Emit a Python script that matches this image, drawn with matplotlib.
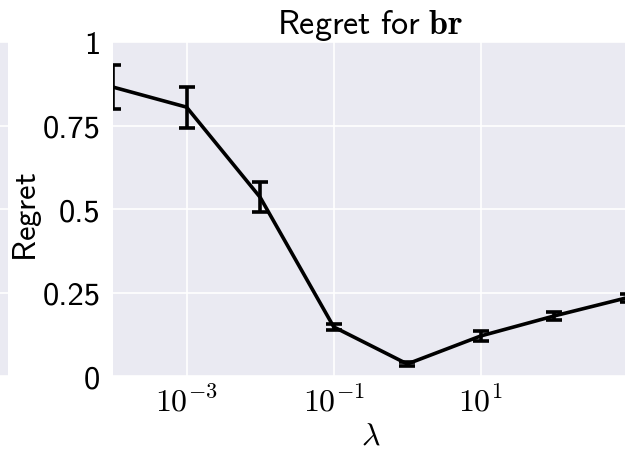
import matplotlib
matplotlib.use("Agg")
import matplotlib.pyplot as plt
from matplotlib.font_manager import FontProperties
import os

lambdas = [1e-4, 1e-3, 1e-2, 1e-1, 1e0, 1e1, 1e2, 1e3]
regret = [0.865, 0.805, 0.535, 0.147, 0.036, 0.12, 0.18, 0.235]
regret_err = [0.067, 0.061, 0.045, 0.01, 0.005, 0.015, 0.013, 0.012]
yticks = [0, 0.25, 0.5, 0.75, 1]
ytick_labels = ["0", "0.25", "0.5", "0.75", "1"]
xticks = [1e-3, 1e-1, 1e1]
xtick_labels = [r"$10^{-3}$", r"$10^{-1}$", r"$10^{1}$"]

plt.rcParams["mathtext.fontset"] = "cm"
bg = "#EAEAF2"
cmss = FontProperties(fname=os.path.join(matplotlib.get_data_path(), "fonts", "ttf", "cmss10.ttf"),
                      size=23.5)

fig = plt.figure(figsize=(6.25, 4.56), dpi=100)
W, H = 625, 456
left, right, top, bottom = 113, 628, 43, 377
ax = fig.add_axes([left / W, 1 - bottom / H, (right - left) / W, (bottom - top) / H])

# neighbouring (cropped) subplot strip
ax2 = fig.add_axes([-0.1, 1 - bottom / H, 0.1 + 8 / W, (bottom - top) / H])
for a in (ax, ax2):
    a.set_facecolor(bg)
    for s in a.spines.values():
        s.set_visible(False)
    a.set_ylim(0, 1)
    a.set_yticks(yticks)
    a.grid(True, color="white", linewidth=1.2)
    a.set_axisbelow(True)
ax2.set_xticks([])
ax2.tick_params(left=False, labelleft=False)

ax.errorbar(lambdas, regret, yerr=regret_err, color="black", lw=2.6,
            elinewidth=2.6, capsize=5.5, capthick=2.6, clip_on=True)
ax.set_xscale("log")
ax.set_xlim(1e-4, 1e3)
ax.set_xticks(xticks)
ax.set_xticklabels(xtick_labels, fontsize=23)
ax.minorticks_off()
ax.set_yticklabels(ytick_labels, fontproperties=cmss)
ax.tick_params(axis="y", length=0, pad=9)
ax.tick_params(axis="x", length=0, pad=7)
ax.set_title(r"$\mathsf{Regret\ for}\ \mathbf{br}$", fontsize=24.5, pad=5)
ax.set_ylabel(r"$\mathsf{Regret}$", fontsize=23.5)
ax.yaxis.set_label_coords((44 - left) / (right - left), 0.48)
ax.set_xlabel(r"$\lambda$", fontsize=23, labelpad=2)

fig.savefig("out.png", dpi=100, facecolor="white")
